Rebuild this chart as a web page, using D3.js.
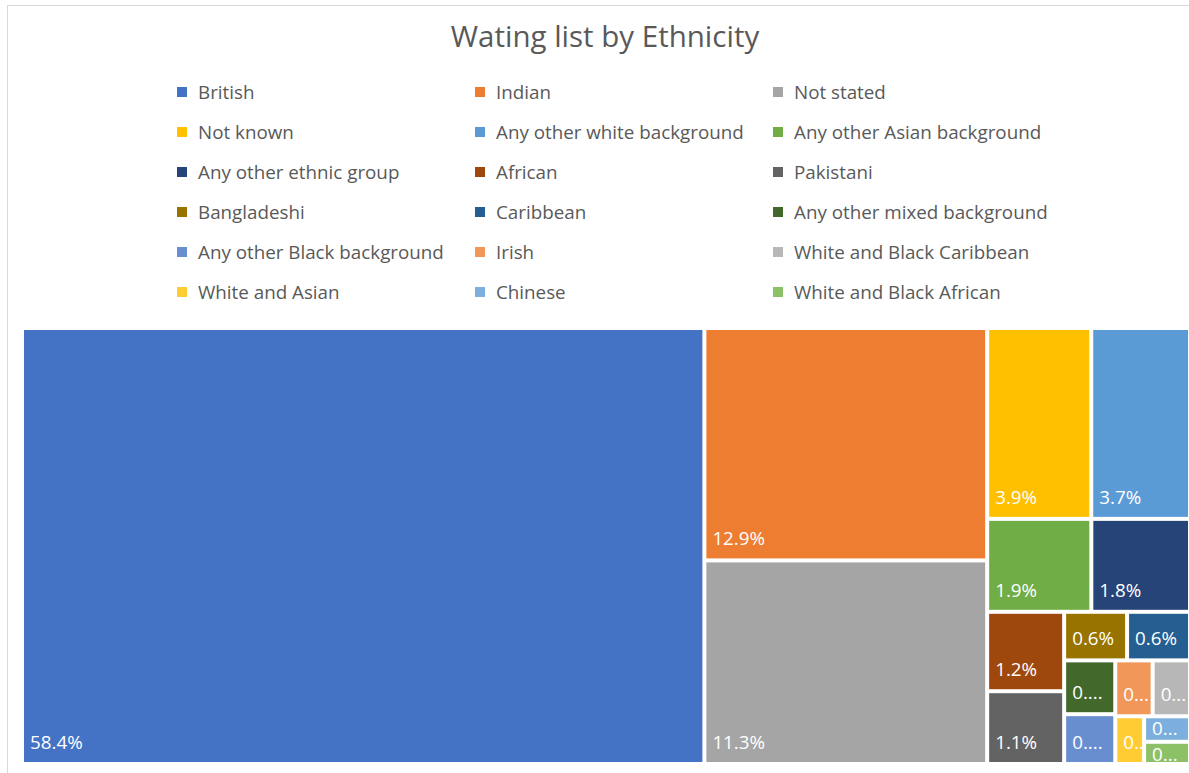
<!DOCTYPE html>
<html>
<head>
<meta charset="utf-8">
<script src="https://cdn.jsdelivr.net/npm/d3@7"></script>
<style>
  body { margin: 0; background: #fff; }
  svg { display: block; font-family: 'Open Sans', 'Noto Sans', sans-serif; }
</style>
</head>
<body>
<div id="chart"></div>
<script>
const categories = [
  'British', 'Indian', 'Not stated', 'Not known', 'Any other white background',
  'Any other Asian background', 'Any other ethnic group', 'African', 'Pakistani',
  'Bangladeshi', 'Caribbean', 'Any other mixed background', 'Any other Black background',
  'Irish', 'White and Black Caribbean', 'White and Asian', 'Chinese', 'White and Black African'
]
// share of waiting list, percent
const shares = [58.4, 12.9, 11.3, 3.9, 3.7, 1.9, 1.8, 1.2, 1.1, 0.6, 0.6, 0.54, 0.5, 0.41, 0.41, 0.27, 0.23, 0.2]
const colors = [
  '#4472C4', '#ED7D31', '#A5A5A5', '#FFC000', '#5B9BD5', '#70AD47', '#264478', '#9E480E', '#636363',
  '#997300', '#255E91', '#43682B', '#698ED0', '#F1975A', '#B7B7B7', '#FFCD33', '#7CAFDD', '#8CC168'
]

const W = 1189, H = 773
const plot = { x: 24, y: 330, w: 1164, h: 432 }

const svg = d3.select('#chart').append('svg')
  .attr('width', W).attr('height', H)

// chart frame
svg.append('rect')
  .attr('x', 7.5).attr('y', 5.5).attr('width', W + 20).attr('height', H + 20)
  .attr('fill', 'none').attr('stroke', '#d9d9d9')

svg.append('text')
  .attr('x', 605).attr('y', 47)
  .attr('text-anchor', 'middle')
  .attr('fill', '#595959')
  .style('font-size', '29.5px')
  .text('Wating list by Ethnicity')

// legend, 3 columns
const colX = d3.scalePoint().domain([0, 1, 2]).range([177, 773])
const rowY = d3.scalePoint().domain(d3.range(6)).range([92, 292])
const legend = svg.append('g')
  .selectAll('g')
  .data(categories)
  .join('g')
  .attr('transform', (d, i) => `translate(${colX(i % 3)},${rowY(Math.floor(i / 3))})`)
legend.append('rect')
  .attr('x', 0).attr('y', -5).attr('width', 10).attr('height', 10)
  .attr('fill', (d, i) => colors[i])
legend.append('text')
  .attr('x', 21).attr('y', 6.5)
  .attr('fill', '#595959')
  .style('font-size', '18.8px')
  .text(d => d)

// treemap
const data = categories.map((name, i) => ({ name, value: shares[i], color: colors[i] }))
const root = d3.hierarchy({ children: data }).sum(d => d.value || 0)
d3.treemap()
  .tile(d3.treemapSquarify.ratio(1))
  .size([plot.w, plot.h])
  .paddingInner(4)(root)

const g = svg.append('g').attr('transform', `translate(${plot.x},${plot.y})`)
const cell = g.selectAll('g')
  .data(root.leaves())
  .join('g')
  .attr('transform', d => `translate(${d.x0},${d.y0})`)

cell.append('clipPath')
  .attr('id', (d, i) => 'clip' + i)
  .append('rect')
  .attr('width', d => d.x1 - d.x0)
  .attr('height', d => d.y1 - d.y0)

cell.append('rect')
  .attr('width', d => d.x1 - d.x0)
  .attr('height', d => d.y1 - d.y0)
  .attr('fill', d => d.data.color)

cell.append('text')
  .attr('clip-path', (d, i) => `url(#clip${i})`)
  .attr('x', 6)
  .attr('y', d => Math.max(d.y1 - d.y0 - 13, 17))
  .attr('fill', '#fff')
  .style('font-size', '18.8px')
  .text(d => d.data.value.toFixed(1) + '%')
  .each(function (d) {
    // truncate like the spreadsheet does when the label does not fit
    const el = d3.select(this)
    const maxW = d.x1 - d.x0 - 12
    let full = el.text()
    if (this.getComputedTextLength() <= maxW) return
    let n = full.length - 1
    while (n > 1) {
      el.text(full.slice(0, n) + '...')
      if (this.getComputedTextLength() <= maxW) return
      n--
    }
    el.text(full.slice(0, 1) + '...')
  })
</script>
</body>
</html>
